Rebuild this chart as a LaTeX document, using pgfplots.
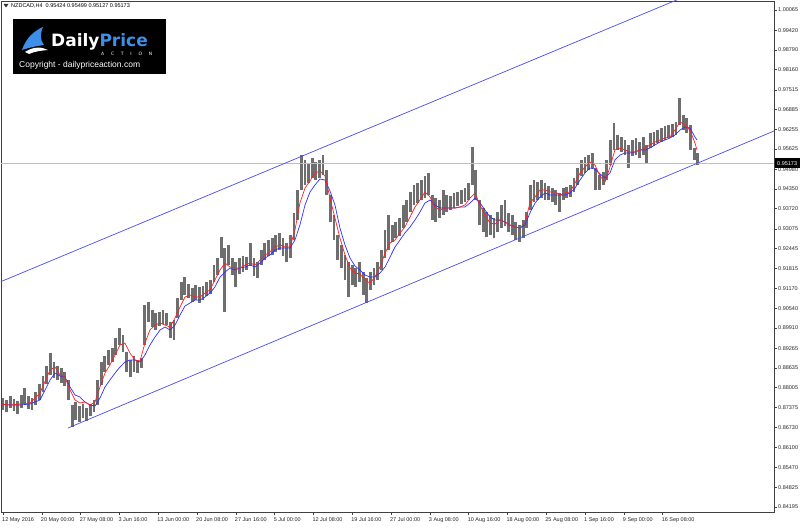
\documentclass[border=0pt]{standalone}
\usepackage{fontspec}
\setmainfont{Liberation Sans}
\newfontfamily\logofont{DejaVu Sans}
\usepackage{pgfplots}
\pgfplotsset{compat=1.18}
\usepackage{pgfplotstable}

\definecolor{barc}{HTML}{6E6E6E}
\definecolor{chan}{HTML}{4A4AF0}
\definecolor{mared}{HTML}{FF2020}
\definecolor{mablue}{HTML}{2E2EFF}
\definecolor{logoblue}{HTML}{3D8FE8}

\pgfplotstableread{
x hi lo
0 0.87676 0.87293
3 0.87612 0.87229
6 0.87740 0.87357
9 0.87644 0.87261
12 0.87580 0.87165
15 0.87772 0.87357
18 0.87995 0.87485
21 0.87740 0.87325
24 0.87676 0.87293
27 0.87868 0.87453
30 0.88123 0.87612
33 0.88379 0.87868
36 0.88698 0.88123
39 0.89113 0.88411
42 0.88826 0.88315
45 0.88698 0.88251
48 0.88634 0.88155
51 0.88506 0.88059
54 0.88251 0.87612
57 0.87453 0.86750
60 0.87549 0.86974
63 0.87421 0.86910
66 0.87485 0.87038
69 0.87357 0.86942
72 0.87485 0.87102
75 0.87612 0.87229
78 0.88251 0.87453
81 0.88826 0.88091
84 0.89017 0.88506
87 0.89209 0.88730
90 0.89273 0.88826
93 0.89592 0.89049
96 0.89911 0.89369
99 0.89688 0.89145
102 0.89145 0.88506
105 0.88890 0.88347
108 0.89017 0.88506
111 0.88890 0.88474
114 0.88953 0.88634
117 0.90646 0.89369
120 0.90741 0.90103
123 0.90486 0.89943
126 0.90390 0.89847
129 0.90422 0.89975
132 0.90486 0.90039
135 0.90390 0.90007
138 0.90103 0.89592
141 0.90167 0.89528
144 0.90869 0.90231
147 0.91380 0.90805
150 0.91540 0.90965
153 0.91316 0.90869
156 0.91188 0.90741
159 0.91284 0.90805
162 0.91220 0.90710
165 0.91252 0.90805
168 0.91380 0.90933
171 0.91444 0.90997
174 0.91923 0.91380
177 0.92146 0.91604
180 0.92817 0.92146
183 0.92466 0.90422
186 0.92561 0.91923
189 0.92146 0.91604
192 0.92019 0.91220
195 0.92146 0.91635
198 0.92210 0.91699
201 0.92178 0.91763
204 0.92625 0.91891
207 0.92146 0.91572
210 0.92019 0.91508
213 0.92402 0.91923
216 0.92625 0.92082
219 0.92721 0.92210
222 0.92785 0.92242
225 0.92881 0.92338
228 0.92945 0.92402
231 0.92785 0.92210
234 0.92625 0.92019
237 0.92881 0.92146
240 0.93583 0.92721
243 0.94317 0.93360
246 0.95435 0.94317
249 0.95275 0.94477
252 0.95180 0.94541
255 0.95339 0.94701
258 0.95212 0.94637
261 0.95275 0.94701
264 0.95435 0.94796
267 0.94956 0.94158
270 0.94158 0.93296
273 0.93519 0.92721
276 0.92881 0.92082
279 0.92561 0.91827
282 0.92242 0.91444
285 0.92019 0.90901
288 0.91923 0.91284
291 0.91827 0.91220
294 0.92019 0.91380
297 0.91699 0.90965
300 0.91508 0.90710
303 0.91699 0.91125
306 0.91827 0.91284
309 0.92019 0.91444
312 0.92402 0.91763
315 0.93040 0.92146
318 0.93519 0.92402
321 0.93200 0.92657
324 0.93296 0.92785
327 0.93423 0.92849
330 0.93839 0.93104
333 0.93998 0.93296
336 0.94254 0.93615
339 0.94477 0.93839
342 0.94541 0.93902
345 0.94637 0.93998
348 0.94764 0.94062
351 0.94860 0.94158
354 0.94158 0.93360
357 0.94062 0.93296
360 0.93998 0.93423
363 0.94317 0.93519
366 0.94158 0.93615
369 0.94126 0.93679
372 0.94222 0.93743
375 0.94254 0.93807
378 0.94317 0.93870
381 0.94381 0.93934
384 0.94541 0.93998
387 0.95690 0.94477
390 0.94956 0.93998
393 0.93998 0.93200
396 0.93743 0.92976
399 0.93615 0.92817
402 0.93519 0.92881
405 0.93423 0.92785
408 0.93615 0.92976
411 0.93839 0.93104
414 0.93998 0.93168
417 0.93583 0.92976
420 0.93519 0.92881
423 0.93296 0.92721
426 0.93200 0.92657
429 0.93360 0.92785
432 0.93615 0.93104
435 0.94477 0.93679
438 0.94637 0.93934
441 0.94573 0.93998
444 0.94637 0.94062
447 0.94541 0.93998
450 0.94445 0.93998
453 0.94381 0.93934
456 0.94317 0.93839
459 0.94222 0.93615
462 0.94381 0.93998
465 0.94413 0.94062
468 0.94477 0.94094
471 0.94701 0.94254
474 0.95020 0.94477
477 0.95275 0.94764
480 0.95371 0.94860
483 0.95435 0.94956
486 0.95499 0.95020
489 0.95020 0.94317
492 0.94796 0.94317
495 0.94892 0.94477
498 0.95275 0.94637
501 0.95914 0.95116
504 0.96457 0.95595
507 0.96074 0.95595
510 0.96010 0.95531
513 0.95914 0.95435
516 0.95754 0.95020
519 0.95914 0.95403
522 0.95978 0.95435
525 0.95850 0.95339
528 0.96010 0.95435
531 0.95754 0.95180
534 0.96137 0.95659
537 0.96169 0.95722
540 0.96233 0.95818
543 0.96297 0.95850
546 0.96361 0.95914
549 0.96393 0.95978
552 0.96425 0.96010
555 0.96489 0.96074
558 0.97255 0.96393
561 0.96712 0.96233
564 0.96617 0.96137
567 0.96393 0.95595
570 0.95659 0.95275
573 0.95499 0.95127
}\bars

\pgfplotstableread{
x red blue
-2.5 0.87485 0.87485
5.8 0.87453 0.87453
14.0 0.87485 0.87453
22.3 0.87517 0.87485
30.5 0.87836 0.87612
38.8 0.88570 0.88251
42.9 0.88666 0.88474
47.0 0.88411 0.88379
51.1 0.88347 0.88347
55.3 0.87932 0.88028
59.4 0.87612 0.87772
63.5 0.87517 0.87709
67.6 0.87549 0.87549
71.8 0.87453 0.87453
75.9 0.87549 0.87421
80.0 0.88028 0.87676
84.1 0.88474 0.88028
88.2 0.88730 0.88251
92.4 0.89049 0.88474
96.5 0.89369 0.88666
100.6 0.89433 0.88826
104.7 0.89113 0.88890
108.9 0.88890 0.88890
113.0 0.88858 0.88826
117.1 0.89433 0.89049
121.2 0.89847 0.89369
125.4 0.90007 0.89624
129.5 0.90071 0.89847
133.6 0.90007 0.89943
137.7 0.89943 0.89847
141.9 0.90231 0.90007
146.0 0.90582 0.90327
150.1 0.90901 0.90614
154.2 0.90965 0.90710
158.4 0.90901 0.90805
162.5 0.90901 0.90805
166.6 0.91029 0.90901
170.7 0.91125 0.91029
174.8 0.91444 0.91220
179.0 0.91763 0.91540
183.1 0.91987 0.91699
187.2 0.91859 0.91827
191.3 0.91827 0.91763
195.5 0.91827 0.91827
199.6 0.91923 0.91859
203.7 0.91987 0.91923
207.8 0.91923 0.91859
212.0 0.92082 0.91987
216.1 0.92242 0.92146
220.2 0.92338 0.92242
224.3 0.92498 0.92402
228.5 0.92561 0.92466
232.6 0.92498 0.92466
236.7 0.92498 0.92466
240.8 0.93040 0.92721
244.9 0.93902 0.93200
249.1 0.94381 0.93839
253.2 0.94605 0.94254
257.3 0.94860 0.94477
261.4 0.94924 0.94669
265.6 0.94764 0.94637
269.7 0.94062 0.94286
273.8 0.93423 0.93839
277.9 0.92785 0.93104
282.1 0.92242 0.92561
286.2 0.91827 0.92146
290.3 0.91668 0.91891
294.4 0.91635 0.91763
298.6 0.91444 0.91604
302.7 0.91348 0.91540
306.8 0.91540 0.91540
310.9 0.91859 0.91667
315.1 0.92306 0.91859
319.2 0.92625 0.92178
323.3 0.92721 0.92498
327.4 0.92945 0.92721
331.5 0.93136 0.92945
335.7 0.93456 0.93136
339.8 0.93775 0.93360
343.9 0.93998 0.93615
348.0 0.94254 0.93902
352.2 0.94094 0.93998
356.3 0.93775 0.93839
360.4 0.93679 0.93743
364.5 0.93743 0.93743
368.7 0.93743 0.93743
372.8 0.93743 0.93743
376.9 0.93775 0.93775
381.0 0.93839 0.93775
385.2 0.94062 0.93902
389.3 0.94222 0.94062
393.4 0.93839 0.93902
397.5 0.93519 0.93679
401.6 0.93264 0.93456
405.8 0.93232 0.93360
409.9 0.93360 0.93360
414.0 0.93296 0.93296
418.1 0.93200 0.93200
422.3 0.93136 0.93136
426.4 0.93104 0.93104
430.5 0.93264 0.93200
434.6 0.93902 0.93583
438.8 0.94094 0.93902
442.9 0.94317 0.94094
447.0 0.94317 0.94222
451.1 0.94254 0.94158
455.3 0.94254 0.94158
459.4 0.94158 0.94158
463.5 0.94222 0.94158
467.6 0.94254 0.94222
471.8 0.94541 0.94381
475.9 0.94860 0.94637
480.0 0.95052 0.94860
484.1 0.95212 0.95020
488.2 0.95116 0.94988
492.4 0.94764 0.94829
496.5 0.94573 0.94701
500.6 0.95052 0.94860
504.7 0.95595 0.95275
508.9 0.95659 0.95435
513.0 0.95595 0.95499
517.1 0.95531 0.95499
521.2 0.95531 0.95531
525.4 0.95595 0.95595
529.5 0.95659 0.95595
533.6 0.95754 0.95659
537.7 0.95850 0.95754
541.9 0.95914 0.95850
546.0 0.95978 0.95914
550.1 0.96010 0.95978
554.2 0.96233 0.96074
558.4 0.96489 0.96233
562.5 0.96393 0.96329
566.6 0.96233 0.96297
570.7 0.95818 0.96010
572.4 0.95595 0.95914
}\mas

\begin{document}
\begin{tikzpicture}[x=1pt,y=1pt]
\useasboundingbox (0,0) rectangle (800,528);
\begin{axis}[
  at={(1pt,16pt)}, anchor=south west,
  scale only axis, width=773pt, height=511pt,
  xmin=-1.65, xmax=635.9, ymin=0.84037, ymax=1.00352,
  axis line style={black!75, line width=0.6pt},
  xtick={0,32,...,544},
  xticklabels={12 May 2016,20 May 00:00,27 May 08:00,3 Jun 16:00,13 Jun 00:00,20 Jun 08:00,27 Jun 16:00,5 Jul 00:00,12 Jul 08:00,19 Jul 16:00,27 Jul 00:00,3 Aug 08:00,10 Aug 16:00,18 Aug 00:00,25 Aug 08:00,1 Sep 16:00,9 Sep 00:00,16 Sep 08:00},
  ytick={0.84195,0.84825,0.85470,0.86100,0.86730,0.87375,0.88005,0.88635,0.89265,0.89910,0.90540,0.91170,0.91815,0.92445,0.93075,0.93720,0.94350,0.94980,0.95625,0.96255,0.96885,0.97515,0.98160,0.98790,0.99420,1.00065},
  yticklabels={0.84195,0.84825,0.85470,0.86100,0.86730,0.87375,0.88005,0.88635,0.89265,0.89910,0.90540,0.91170,0.91815,0.92445,0.93075,0.93720,0.94350,0.94980,0.95625,0.96255,0.96885,0.97515,0.98160,0.98790,0.99420,1.00065},
  ytick pos=right, yticklabel pos=right, xtick pos=bottom,
  tick align=outside, major tick length=3pt,
  tick style={black!75, line width=0.5pt},
  ticklabel style={font=\fontsize{5.5}{6}\selectfont, text=black!85},
  xticklabel style={anchor=north west, inner sep=0pt, xshift=-1pt, yshift=-2pt},
  yticklabel style={anchor=west, inner sep=0pt, xshift=1pt},
]
\addplot[draw=none, mark=none, forget plot,
  error bars/.cd, y dir=plus, y explicit, error mark=none,
  error bar style={draw=barc, line width=2.8pt}]
  table[x=x, y=lo, y error expr=\thisrow{hi}-\thisrow{lo}] {\bars};
\addplot[black!25, line width=0.5pt] coordinates {(-1.65,0.95173) (635.9,0.95173)};
\addplot[chan, line width=0.7pt] coordinates {(-2.5,0.91380) (574.8,1.00694)};
\addplot[chan, line width=0.7pt] coordinates {(53.6,0.86719) (635.9,0.96202)};
\addplot[mablue, line width=0.7pt] table[x=x, y=blue] {\mas};
\addplot[mared, line width=0.7pt] table[x=x, y=red] {\mas};
\end{axis}
% current price marker
\fill[black] (775,359.8) rectangle (800,369.8);
\node[white, anchor=west, inner sep=0pt, font=\fontsize{5.5}{6}\selectfont] at (777,364.8) {0.95173};
% header
\fill[black!80] (3.5,524) -- (8.5,524) -- (6,520.5) -- cycle;
\node[anchor=west, inner sep=0pt, font=\fontsize{5.5}{6}\selectfont] at (11,522.3) {NZDCAD,H4\ \ 0.95424 0.95499 0.95127 0.95173};
% logo
\fill[black] (12.7,454) rectangle (166,509);
\fill[logoblue] (22,478) .. controls (26,490) and (34,497) .. (43,501) .. controls (40,494) and (40,488) .. (44,483) .. controls (36,482) and (28,480) .. (22,478) -- cycle;
\fill[white] (25,476) .. controls (34,482) and (42,481) .. (48,478) .. controls (42,477.5) and (34,476.5) .. (29,474) -- cycle;
\node[anchor=base west, inner sep=0pt, font=\logofont\bfseries\fontsize{17}{18}\selectfont] at (51,481) {\textcolor{white}{Daily}\textcolor{logoblue}{Price}};
\node[anchor=base west, inner sep=0pt, text=white, font=\logofont\fontsize{4.5}{5}\selectfont] at (101,472.5) {\makebox[51pt][s]{A\hfil C\hfil T\hfil I\hfil O\hfil N}};
\node[anchor=base west, inner sep=0pt, text=white, font=\fontsize{8.5}{10}\selectfont] at (19,460) {Copyright - dailypriceaction.com};
\end{tikzpicture}
\end{document}
